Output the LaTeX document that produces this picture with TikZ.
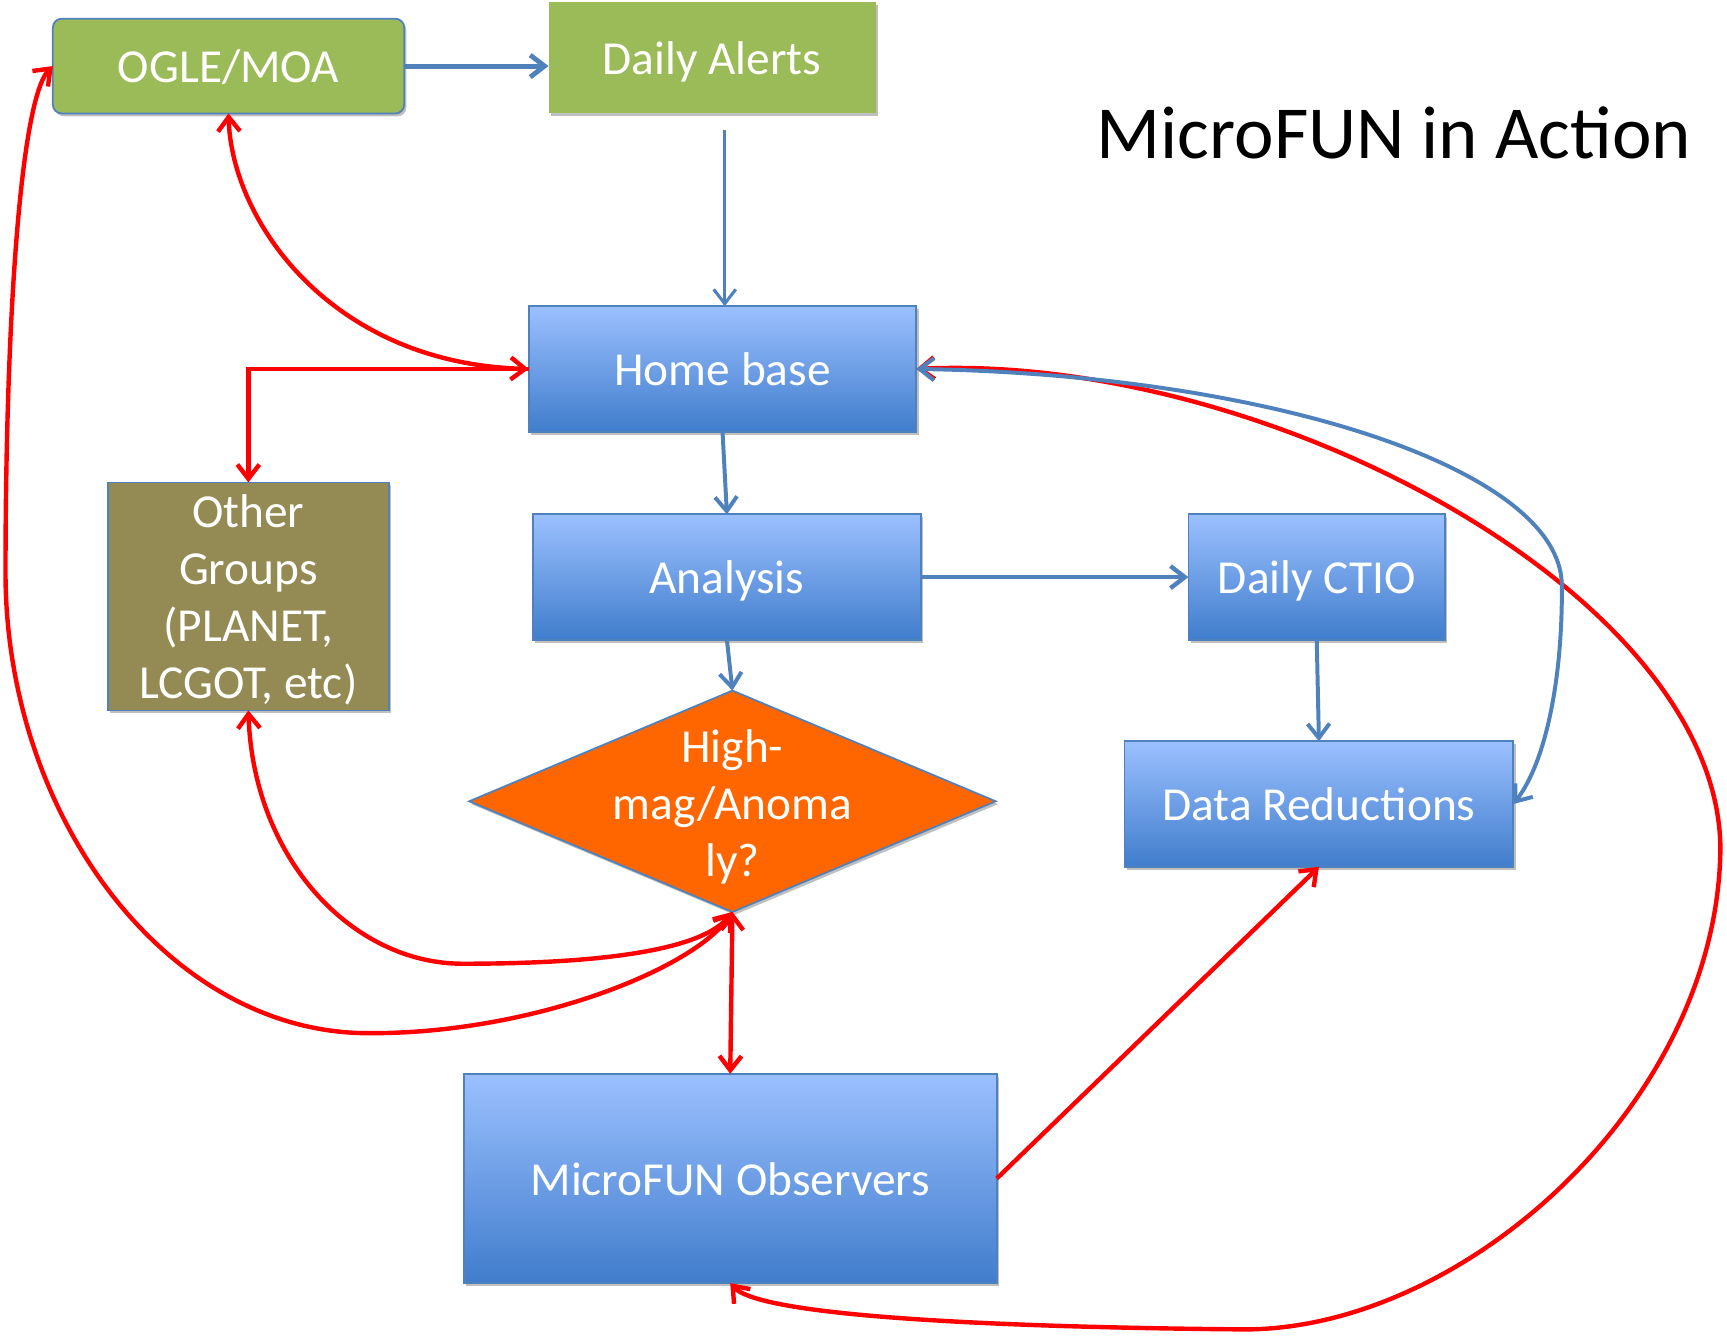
\documentclass[tikz,border=0pt]{standalone}
\usepackage{fontspec}
\setmainfont{Carlito}
\usetikzlibrary{arrows.meta,shapes.geometric,shadows}
\definecolor{bborder}{RGB}{79,129,189}
\definecolor{ggreen}{RGB}{155,187,89}
\definecolor{oliveg}{RGB}{148,138,84}
\definecolor{oorange}{RGB}{255,102,0}
\definecolor{gtop}{RGB}{155,192,255}
\definecolor{gbot}{RGB}{64,125,204}
\definecolor{rred}{RGB}{255,0,0}
\begin{document}
\begin{tikzpicture}[x=0.5pt,y=-0.5pt,
  shad/.style={drop shadow={shadow xshift=1pt,shadow yshift=-1.3pt,fill=gray!50,opacity=1}},
  box/.style={draw=bborder, line width=0.8pt, inner sep=0pt, outer sep=0pt, align=center,
    text=white, font=\fontsize{21.5}{26}\selectfont, shad},
  oneline/.style={text height=15pt, text depth=0pt},
  bluebox/.style={box, oneline, top color=gtop, bottom color=gbot},
  bl/.style={draw=bborder, line width=1.8pt},
  rd/.style={draw=rred, line width=2pt},
  >={Straight Barb[length=6.5pt,width=10pt]}]
\useasboundingbox (0,0) rectangle (1568,1214);

% nodes
\node[box, oneline, fill=ggreen, rounded corners=4pt, minimum width=159.5pt, minimum height=43pt] (ogle) at (207.5,60) {OGLE/MOA};
\node[box, oneline, draw=none, fill=ggreen, minimum width=148.5pt, minimum height=50.5pt] (alerts) at (646.5,52.5) {Daily Alerts};
\node[bluebox, minimum width=176pt, minimum height=57pt] (home) at (656,335) {Home base};
\node[bluebox, minimum width=176pt, minimum height=57pt] (analysis) at (660,524) {Analysis};
\node[bluebox, minimum width=116.5pt, minimum height=57pt] (ctio) at (1195.5,524) {Daily CTIO};
\node[bluebox, minimum width=176.5pt, minimum height=57pt] (datared) at (1197.5,730) {Data Reductions};
\node[box, fill=oliveg, minimum width=127.5pt, minimum height=103.5pt] (other) at (225.5,541.5) {\rule{0pt}{18pt}Other\\Groups\\(PLANET,\\LCGOT, etc)};
\node[box, shape=diamond, fill=oorange, minimum width=239pt, minimum height=100.5pt] (hm) at (665,727.5) {};
\node[align=center, text=white, font=\fontsize{21.5}{25.8}\selectfont] (hmtext) at (665,732.5) {High-\\mag/Anoma\\ly?};
\node[bluebox, minimum width=242pt, minimum height=95pt] (obs) at (663,1070) {MicroFUN Observers};
\node[anchor=base, font=\fontsize{34}{40}\selectfont] (title) at (1265.5,144) {MicroFUN in Action};

% red loop (under the blue feedback curve)
\draw[rd, <->] (obs.south) .. controls (690,1195) and (900,1205) .. (1130,1207)
   .. controls (1330,1207) and (1560,1000) .. (1562,770)
   .. controls (1560,540) and (1150,320) .. (home.east);

% blue connectors
\draw[bl, line width=2.2pt, ->] (ogle.east) -- (ogle.east -| alerts.west);
\coordinate (aa) at (658,118);
\draw[bl, line width=1.4pt, ->] (aa) -- (aa |- home.north);
\draw[bl, ->] (home.south) -- (analysis.north);
\draw[bl, line width=2pt, ->] (analysis.east) -- (ctio.west);
\draw[bl, ->] (analysis.south) -- (hm.north);
\draw[bl, ->] (ctio.south) -- (datared.north);
\draw[bl, <->] (home.east) .. controls (1150,340) and (1415,425) .. (1418,530)
   .. controls (1419,610) and (1405,690) .. (datared.east);

% red connectors
\draw[rd, <->] (ogle.south) .. controls (210,200) and (300,330) .. (home.west);
\draw[rd, ->] (home.west) -| (other.north);
\draw[rd, <->] (other.south) .. controls (230,780) and (320,875) .. (420,875)
   .. controls (560,875) and (640,860) .. (hm.south);
\draw[rd, <->] (hm.south) .. controls (630,880) and (480,940) .. (330,938)
   .. controls (150,935) and (5,740) .. (5,520)
   .. controls (5,300) and (18,90) .. (ogle.west);
\draw[rd, <->] (hm.south) -- (obs.north);
\draw[rd, ->] (obs.east) -- (datared.south);
\end{tikzpicture}
\end{document}
